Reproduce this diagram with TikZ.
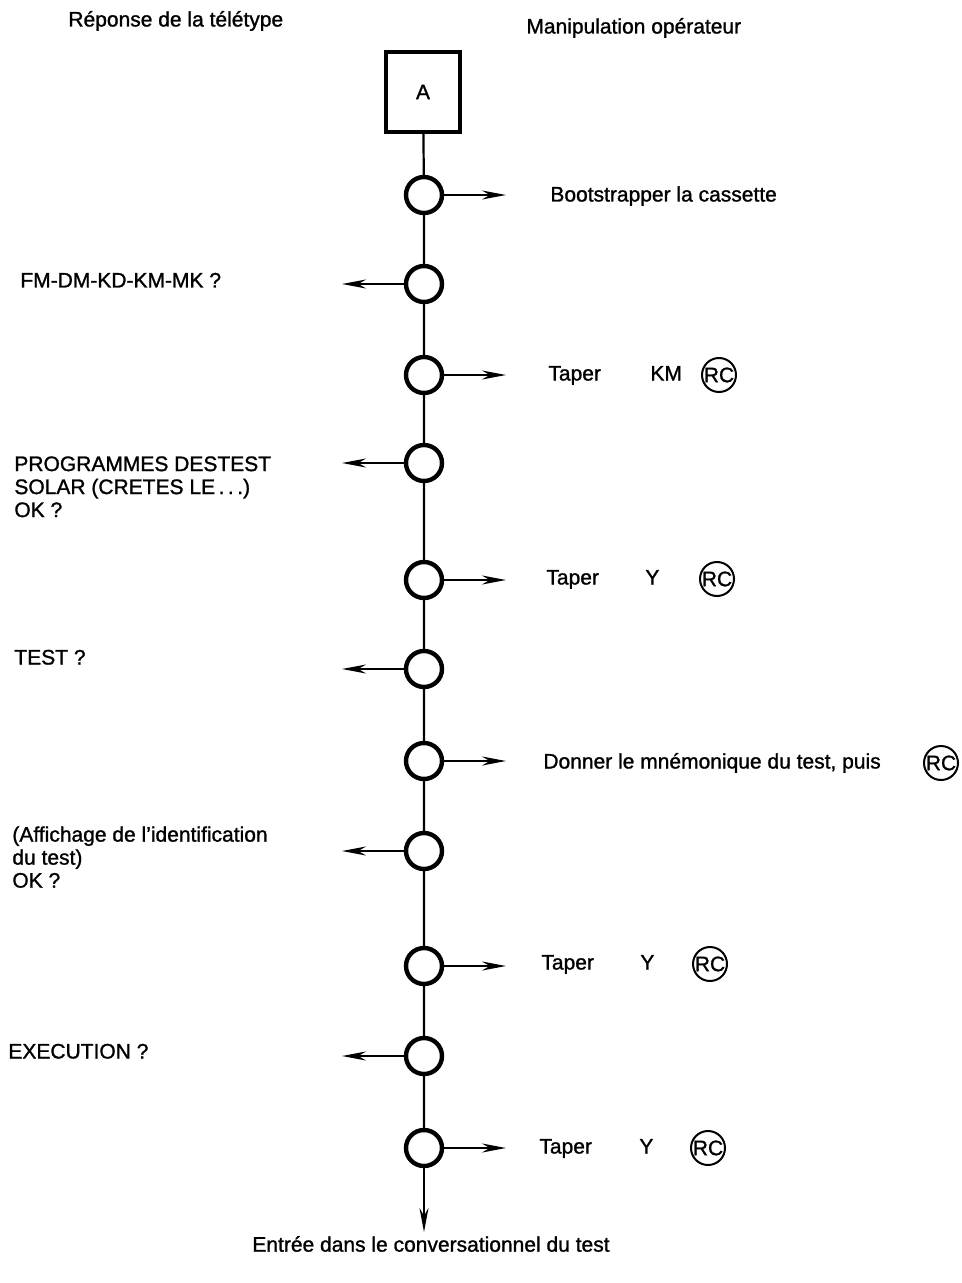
\documentclass[tikz,border=0pt]{standalone}
\usepackage{fontspec}
\setmainfont{Liberation Sans}[FakeBold=1.2]
\usetikzlibrary{arrows.meta}

\tikzset{
  noeud/.style={circle,draw,line width=2.2pt,minimum size=18pt,inner sep=0pt},
  rc/.style={circle,draw,line width=1pt,minimum size=17pt,inner sep=0pt},
  fleche/.style={line width=1.1pt,-{Stealth[length=12pt,width=4.5pt]}},
  lbl/.style={anchor=west,inner sep=0pt,text height=7.5pt,text depth=2pt},
}

\begin{document}
\begin{tikzpicture}[x=0.5pt,y=-0.5pt,font=\fontsize{10.5}{11.5}\selectfont]
\useasboundingbox (0,0) rectangle (962,1283);

% titres
\node[lbl] (tg) at (68,21) {Réponse de la télétype};
\node[lbl] (td) at (526,28) {Manipulation opérateur};

% boite de depart
\node[draw,line width=2.2pt,minimum width=37pt,minimum height=40pt] (boxA) at (423,92) {A};

% les noeuds
\node[noeud] (c1) at (424,195) {};
\node[noeud] (c2) at (424,284) {};
\node[noeud] (c3) at (424,375) {};
\node[noeud] (c4) at (424,463) {};
\node[noeud] (c5) at (424,580) {};
\node[noeud] (c6) at (424,669) {};
\node[noeud] (c7) at (424,761) {};
\node[noeud] (c8) at (424,851) {};
\node[noeud] (c9) at (424,966) {};
\node[noeud] (c10) at (424,1056) {};
\node[noeud] (c11) at (424,1148) {};
\coordinate (fin) at (424,1232);

\draw[line width=1.1pt] (boxA) -- (c1) -- (c2) -- (c3) -- (c4) -- (c5) -- (c6)
  -- (c7) -- (c8) -- (c9) -- (c10) -- (c11);
\draw[fleche] (c11) -- (fin);

% fleches a droite
\coordinate (r1) at (506,195);
\coordinate (r3) at (506,375);
\coordinate (r5) at (506,580);
\coordinate (r7) at (506,761);
\coordinate (r9) at (506,966);
\coordinate (r11) at (506,1148);
\draw[fleche] (c1) -- (r1);
\draw[fleche] (c3) -- (r3);
\draw[fleche] (c5) -- (r5);
\draw[fleche] (c7) -- (r7);
\draw[fleche] (c9) -- (r9);
\draw[fleche] (c11) -- (r11);

% fleches a gauche
\coordinate (l2) at (342,284);
\coordinate (l4) at (342,463);
\coordinate (l6) at (342,669);
\coordinate (l8) at (342,851);
\coordinate (l10) at (342,1056);
\draw[fleche] (c2) -- (l2);
\draw[fleche] (c4) -- (l4);
\draw[fleche] (c6) -- (l6);
\draw[fleche] (c8) -- (l8);
\draw[fleche] (c10) -- (l10);

% manipulations operateur
\node[lbl] (m1) at (550,196) {Bootstrapper la cassette};
\node[lbl] (m3) at (548,375) {Taper};
\node[lbl] (m3b) at (650,375) {KM};
\node[rc] (rc3) at (719,375) {RC};
\node[lbl] (m5) at (546,579) {Taper};
\node[lbl] (m5b) at (645,579) {Y};
\node[rc] (rc5) at (717,579) {RC};
\node[lbl] (m7) at (543,763) {Donner le mnémonique du test, puis};
\node[rc] (rc7) at (941,763) {RC};
\node[lbl] (m9) at (541,964) {Taper};
\node[lbl] (m9b) at (640,964) {Y};
\node[rc] (rc9) at (710,964) {RC};
\node[lbl] (m11) at (539,1148) {Taper};
\node[lbl] (m11b) at (639,1148) {Y};
\node[rc] (rc11) at (708,1148) {RC};

% reponses teletype
\node[lbl] (t2) at (20,282) {FM-DM-KD-KM-MK ?};
\node[anchor=north west,inner sep=0pt,align=left] (t4) at (14,456)
  {PROGRAMMES DESTEST\\SOLAR (CRETES LE\,.\,.\,.)\\OK ?};
\node[lbl] (t6) at (14,659) {TEST ?};
\node[anchor=north west,inner sep=0pt,align=left] (t8) at (12,826)
  {(Affichage de l'identification\\du test)\\OK ?};
\node[lbl] (t10) at (8,1053) {EXECUTION ?};

\node (sortie) at (431,1244) {Entrée dans le conversationnel du test};
\end{tikzpicture}
\end{document}
